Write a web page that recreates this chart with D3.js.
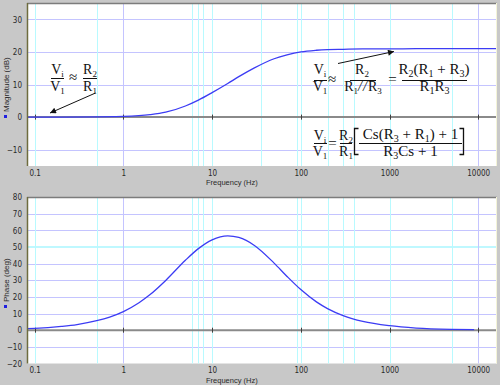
<!DOCTYPE html>
<html>
<head>
<meta charset="utf-8">
<script src="https://cdn.jsdelivr.net/npm/d3@7"></script>
<style>
  body { margin: 0; background: #c8c8c8; }
  svg { display: block; }
</style>
</head>
<body>
<div id="chart"></div>
<script>
// values
const freqTicks = [0.1, 1, 10, 100, 1000, 10000];
const magTicks = [-10, 0, 10, 20, 30];
const phaseTicks = [-20, -10, 0, 10, 20, 30, 40, 50, 60, 70, 80];
const cyanGridTop = [0.1, 0.5, 6, 7, 8, 10, 36, 90, 100, 200, 300, 400, 1000, 5000];
const cyanGridBottom = [0.1, 0.5, 6, 7, 8, 10, 90, 100, 200, 300, 400, 1000, 5000];
const blueGrid = [1, 10000];
const magGridLavender = [-10, 10, 20, 30];
const phaseGridLavender = [-10, 10, 20, 30, 40, 60, 70];
const phaseGridCyan = [50];

const magFreq = [0.08, 0.2, 0.5, 0.8, 1, 2, 3, 5, 7, 10, 15, 20, 30, 50, 70, 100, 150, 200, 300, 500, 1000, 2000, 5000, 17000];
const magDb = [0, 0, 0.05, 0.13, 0.2, 0.75, 1.5, 3.4, 5.2, 7.5, 10.3, 12.4, 15.1, 17.9, 19.1, 20.0, 20.5, 20.7, 20.8, 20.9, 20.9, 21.0, 21.0, 21.0];

const phaseFreq = [0.08, 0.1, 0.2, 0.3, 0.5, 0.7, 1, 1.5, 2, 3, 5, 7, 10, 15, 20, 30, 50, 70, 100, 150, 200, 300, 500, 1000, 2000, 5000, 9000];
const phaseDeg = [0.9, 1.1, 2.3, 3.4, 5.7, 7.9, 11.2, 16.5, 21.4, 29.9, 42.0, 49.0, 54.3, 56.7, 55.7, 50.9, 40.3, 32.3, 24.4, 17.0, 13.0, 8.8, 5.3, 2.7, 1.3, 0.5, 0.3];

const width = 500;
const height = 385;
const left = 27;
const right = 497;
const uiFont = '"Liberation Sans", Arial, sans-serif';
const tickFont = '"Liberation Sans Narrow", "DejaVu Sans Condensed", Arial, sans-serif';
const mathFont = '"Liberation Serif", "Times New Roman", serif';

const svg = d3.select('#chart')
  .append('svg')
  .attr('width', width)
  .attr('height', height);

svg.append('rect')
  .attr('width', width)
  .attr('height', height)
  .attr('fill', '#c8c8c8');

const x = d3.scaleLog().domain([0.0819, 16290]).range([left, right]);

function panel(cfg) {
  const y = d3.scaleLinear().domain(cfg.domain).range([cfg.bottom, cfg.top]);
  const g = svg.append('g');

  g.append('clipPath').attr('id', cfg.id)
    .append('rect')
    .attr('x', left).attr('y', cfg.top)
    .attr('width', right - left).attr('height', cfg.bottom - cfg.top);

  g.append('rect')
    .attr('x', left).attr('y', cfg.top)
    .attr('width', right - left).attr('height', cfg.bottom - cfg.top)
    .attr('fill', '#fff');

  // grid
  g.selectAll('.hl').data(cfg.lavender).join('line')
    .attr('x1', left).attr('x2', right)
    .attr('y1', d => Math.round(y(d)) + 0.5).attr('y2', d => Math.round(y(d)) + 0.5)
    .attr('stroke', '#c4c4ff');
  g.selectAll('.hc').data(cfg.cyanH).join('line')
    .attr('x1', left).attr('x2', right)
    .attr('y1', d => y(d)).attr('y2', d => y(d))
    .attr('stroke', '#bff8ff').attr('stroke-width', 2);
  g.selectAll('.vc').data(cfg.cyanV).join('line')
    .attr('x1', d => Math.round(x(d)) + 0.5).attr('x2', d => Math.round(x(d)) + 0.5)
    .attr('y1', cfg.top).attr('y2', cfg.bottom)
    .attr('stroke', '#b8faff');
  g.selectAll('.vb').data(blueGrid).join('line')
    .attr('x1', d => Math.round(x(d)) + 0.5).attr('x2', d => Math.round(x(d)) + 0.5)
    .attr('y1', cfg.top).attr('y2', cfg.bottom)
    .attr('stroke', '#c4c4ff');

  // zero line with decade ticks
  g.append('line')
    .attr('x1', left).attr('x2', right)
    .attr('y1', y(0)).attr('y2', y(0))
    .attr('stroke', '#8a8a8a').attr('stroke-width', 2);
  g.selectAll('.zt').data(freqTicks).join('line')
    .attr('x1', d => Math.round(x(d)) + 0.5).attr('x2', d => Math.round(x(d)) + 0.5)
    .attr('y1', y(0) - 2.5).attr('y2', y(0) + 2.5)
    .attr('stroke', '#404040');

  const line = d3.line()
    .x(d => x(d[0]))
    .y(d => y(d[1]))
    .curve(d3.curveMonotoneX);

  g.append('path')
    .datum(d3.zip(cfg.freq, cfg.values))
    .attr('clip-path', `url(#${cfg.id})`)
    .attr('d', line)
    .attr('fill', 'none')
    .attr('stroke', '#3c3cf4')
    .attr('stroke-width', 1.3);

  // frame
  g.append('line')
    .attr('x1', left).attr('x2', right)
    .attr('y1', cfg.top + 0.5).attr('y2', cfg.top + 0.5)
    .attr('stroke', '#7c7c7c').attr('stroke-width', 1.5);
  g.append('line')
    .attr('x1', left + 0.5).attr('x2', left + 0.5)
    .attr('y1', cfg.top).attr('y2', cfg.bottom)
    .attr('stroke', '#6e6c3e').attr('stroke-width', 1.5);
  g.append('line')
    .attr('x1', right - 0.5).attr('x2', right - 0.5)
    .attr('y1', cfg.top).attr('y2', cfg.bottom)
    .attr('stroke', '#f4f4d8');

  // axes
  const yAxis = g.append('g')
    .attr('transform', `translate(${left},0)`)
    .call(d3.axisLeft(y).tickValues(cfg.ticks).tickSize(0).tickPadding(5));
  const xAxis = g.append('g')
    .attr('transform', `translate(0,${cfg.bottom})`)
    .call(d3.axisBottom(x).tickValues(freqTicks).tickFormat(d => String(d)).tickSize(0).tickPadding(4));

  [yAxis, xAxis].forEach(a => {
    a.select('.domain').remove();
    a.selectAll('text')
      .attr('fill', '#2a2a2a')
      .style('font-family', tickFont)
      .style('font-size', '8px');
  });
  yAxis.selectAll('text').attr('dy', '0.34em');

  g.append('text')
    .attr('x', 206)
    .attr('y', cfg.bottom + 19)
    .attr('fill', '#2a2a2a')
    .style('font-family', uiFont)
    .style('font-size', '7.5px')
    .text('Frequency (Hz)');

  g.append('rect')
    .attr('x', 4).attr('y', cfg.markY)
    .attr('width', 3).attr('height', 3)
    .attr('fill', '#2020e0');
  g.append('text')
    .attr('transform', `translate(9,${cfg.markY - 3}) rotate(-90)`)
    .attr('fill', '#2a2a2a')
    .style('font-family', uiFont)
    .style('font-size', '8px')
    .text(cfg.title);

  return { g, y };
}

panel({
  id: 'clipMag', top: 3, bottom: 166, domain: [-15, 35],
  ticks: magTicks, lavender: magGridLavender, cyanH: [], cyanV: cyanGridTop,
  freq: magFreq, values: magDb, title: 'Magnitude (dB)', markY: 115
});

panel({
  id: 'clipPhase', top: 197, bottom: 363.5, domain: [-20, 80],
  ticks: phaseTicks, lavender: phaseGridLavender, cyanH: phaseGridCyan, cyanV: cyanGridBottom,
  freq: phaseFreq, values: phaseDeg, title: 'Phase (deg)', markY: 305
});

// equations: "_x" is a subscript character, "//" is drawn italic
function mathText(cx, cy, src, size) {
  const fs = size || 15;
  const t = svg.append('text')
    .attr('x', cx).attr('y', cy)
    .attr('text-anchor', 'middle')
    .attr('fill', '#111')
    .style('font-family', mathFont)
    .style('font-size', fs + 'px');
  const re = /_(.)|(\/\/)|([^_\/]+)/g;
  let m;
  let shift = 0;
  while ((m = re.exec(src)) !== null) {
    let s;
    if (m[1]) {
      s = t.append('tspan').attr('font-size', Math.round(fs * 0.66)).attr('dy', 3 - shift).text(m[1]);
      shift = 3;
      continue;
    }
    s = t.append('tspan').text(m[2] || m[3]);
    if (m[2]) s.style('font-style', 'italic').attr('letter-spacing', 1);
    if (shift) s.attr('dy', -shift);
    shift = 0;
  }
}

function bar(x1, x2, yy) {
  svg.append('line')
    .attr('x1', x1).attr('x2', x2)
    .attr('y1', yy).attr('y2', yy)
    .attr('stroke', '#111').attr('stroke-width', 1);
}

// low frequency approximation
mathText(57.5, 74, 'V_i', 14);
bar(51, 64, 78.5);
mathText(57.5, 90.5, 'V_1', 14);
mathText(73, 82, '\u2248');
mathText(90, 74, 'R_2', 14);
bar(83, 97, 78.5);
mathText(90, 90.5, 'R_1', 14);

// high frequency approximation
mathText(320, 74, 'V_i', 14);
bar(314, 327, 80.5);
mathText(320, 90.5, 'V_1', 14);
mathText(332, 84, '\u2248');
mathText(362, 73.5, 'R_2', 14);
bar(350, 376, 80.5);
mathText(363, 90.5, 'R_1//R_3', 14);
mathText(392.5, 84, '=');
mathText(434, 73.5, 'R_2(R_1 + R_3)');
bar(402, 467, 80.5);
mathText(434.5, 90.5, 'R_1R_3');

// full transfer function
mathText(320, 140, 'V_i', 14);
bar(314, 327, 143.5);
mathText(320, 156, 'V_1', 14);
mathText(332.5, 148, '=');
mathText(346, 140, 'R_2', 14);
bar(340, 352, 143.5);
mathText(346, 156, 'R_1', 14);
mathText(410.5, 139, 'Cs(R_3 + R_1) + 1');
bar(359, 462, 143.5);
mathText(410.5, 156, 'R_3Cs + 1');

svg.append('path')
  .attr('d', 'M358.5,128.5H354.5V154.5H358.5M459.5,128.5H463.5V154.5H459.5')
  .attr('fill', 'none').attr('stroke', '#111').attr('stroke-width', 1.3);

// arrows
svg.append('defs').append('marker')
  .attr('id', 'arrow')
  .attr('viewBox', '0 0 10 10')
  .attr('refX', 10).attr('refY', 5)
  .attr('markerWidth', 9).attr('markerHeight', 6)
  .attr('markerUnits', 'userSpaceOnUse')
  .attr('orient', 'auto')
  .append('path')
  .attr('d', 'M0,0L10,5L0,10Z')
  .attr('fill', '#111');

svg.append('line')
  .attr('x1', 95.5).attr('y1', 93).attr('x2', 50).attr('y2', 113)
  .attr('stroke', '#111').attr('stroke-width', 1)
  .attr('marker-end', 'url(#arrow)');
svg.append('line')
  .attr('x1', 338).attr('y1', 63.5).attr('x2', 394).attr('y2', 51.5)
  .attr('stroke', '#111').attr('stroke-width', 1)
  .attr('marker-end', 'url(#arrow)');
</script>
</body>
</html>
